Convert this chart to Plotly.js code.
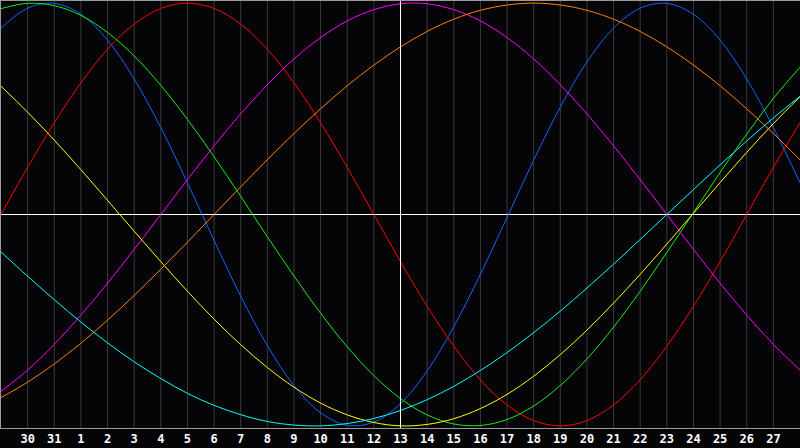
<!DOCTYPE html>
<html>
<head>
<title>biorhythm chart</title>
<script src="https://cdn.plot.ly/plotly-3.0.1.min.js"></script>
<style>
body { margin:0; padding:0; background:#050508; }
#chart { width:800px; height:448px; }
</style>
</head>
<body>
<div id="chart"></div>
<script>
// days shown, index 0..30 (29th of last month to the 28th)
days=[29,30,31,1,2,3,4,5,6,7,8,9,10,11,12,13,14,15,16,17,18,19,20,21,22,23,24,25,26,27,28];
today=15; // index of the 13th

// cycle values in percent, one per day
physical=[88.2,97.6,99.9,94.7,82.5,64.1,41.1,15.0,-12.3,-38.6,-62.0,-80.9,-93.8,-99.7,-98.2,-89.4,-74.0,-53.1,-28.3,-1.4,25.7,50.8,72.2,88.2,97.6,99.9,94.7,82.5,64.1,41.1,15.0];
emotional=[0,22.3,43.4,62.3,78.2,90.1,97.5,100,97.5,90.1,78.2,62.3,43.4,22.3,0,-22.3,-43.4,-62.3,-78.2,-90.1,-97.5,-100,-97.5,-90.1,-78.2,-62.3,-43.4,-22.3,0,22.3,43.4];
intellectual=[97.4,99.9,98.8,94.2,86.1,75.0,61.1,45.0,27.3,8.6,-10.5,-29.1,-46.7,-62.6,-76.2,-87.1,-94.8,-99.1,-99.8,-97.0,-90.6,-80.9,-68.3,-53.3,-36.3,-18.0,0.9,19.9,38.0,54.9,69.7];
intuitive=[-83.7,-73.6,-61.4,-47.6,-32.5,-16.5,0,16.5,32.5,47.6,61.4,73.6,83.7,91.6,96.9,99.7,99.7,96.9,91.6,83.7,73.6,61.4,47.6,32.5,16.5,0,-16.5,-32.5,-47.6,-61.4,-73.6];
aesthetic=[60.7,48.4,35.2,21.2,6.7,-7.9,-22.3,-36.3,-49.5,-61.6,-72.4,-81.7,-89.2,-94.8,-98.4,-100,-99.3,-96.6,-91.8,-85.1,-76.5,-66.3,-54.7,-41.9,-28.3,-14.0,0.6,15.1,29.4,43.0,55.7];
awareness=[-86.6,-79.3,-70.7,-60.9,-50,-38.3,-25.9,-13.1,0,13.1,25.9,38.3,50,60.9,70.7,79.3,86.6,92.4,96.6,99.1,100,99.1,96.6,92.4,86.6,79.3,70.7,60.9,50,38.3,25.9];
spiritual=[-17.7,-29.2,-40.3,-50.9,-60.7,-69.7,-77.6,-84.6,-90.3,-94.7,-97.9,-99.6,-100,-98.9,-96.5,-92.7,-87.6,-81.3,-73.8,-65.3,-55.9,-45.7,-34.8,-23.5,-11.8,0,11.8,23.5,34.8,45.7,55.9];

names=["physical","emotional","intellectual","intuitive","aesthetic","awareness","spiritual"];
colours=["#1262ff","#ff0000","#10f010","#ff00ff","#ffff00","#ff8000","#00ffff"];
series=[physical,emotional,intellectual,intuitive,aesthetic,awareness,spiritual];

xs=[];
for(i=0;i<days.length;i++)xs[i]=i;

// tick labels only on the inner day lines
tickvals=[];ticktext=[];
for(i=1;i<days.length-1;i++){tickvals.push(i);ticktext.push(String(days[i]));}

data=[];
for(s=0;s<series.length;s++){
  data.push({x:xs,y:series[s],name:names[s],type:'scatter',mode:'lines',
    line:{color:colours[s],width:1,shape:'spline',smoothing:1}});
}

// one thin grey line per day, white one for today
shapes=[];
for(i=0;i<tickvals.length;i++){
  if(tickvals[i]==today)continue;
  shapes.push({type:'line',xref:'x',yref:'paper',x0:tickvals[i],x1:tickvals[i],y0:0,y1:1,
    line:{color:'#3a3a3a',width:1},layer:'below'});
}
shapes.push({type:'line',xref:'x',yref:'paper',x0:today,x1:today,y0:0,y1:1,
    line:{color:'#ffffff',width:1},layer:'above'});

layout={
  width:800,height:448,autosize:false,
  margin:{l:1,r:0,t:1,b:20,pad:0},
  paper_bgcolor:'#050508',plot_bgcolor:'#050508',
  showlegend:false,
  xaxis:{range:[0,30],tickmode:'array',tickvals:tickvals,ticktext:ticktext,
    showgrid:false,zeroline:false,
    showline:true,linecolor:'#9a9a9a',linewidth:1,mirror:true,ticks:'',
    tickfont:{family:'DejaVu Sans Mono',size:12,color:'#ffffff',weight:'bold'}},
  yaxis:{range:[-101,101],showgrid:false,showticklabels:false,ticks:'',
    zeroline:true,zerolinecolor:'#ffffff',zerolinewidth:1,
    showline:true,linecolor:'#9a9a9a',linewidth:1},
  shapes:shapes
};

Plotly.newPlot('chart',data,layout,{displayModeBar:false,staticPlot:true});
</script>
</body>
</html>
